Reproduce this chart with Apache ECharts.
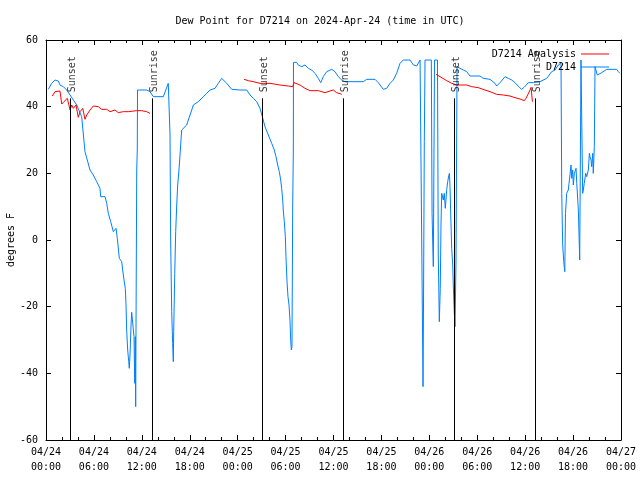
<!DOCTYPE html>
<html>
<head>
<meta charset="utf-8">
<script src="https://cdn.jsdelivr.net/npm/echarts@6/dist/echarts.min.js"></script>
<style>html,body{margin:0;padding:0;background:#fff}#c{width:640px;height:480px}</style>
</head>
<body>
<div id="c"></div>
<script>
// Hours since 2024-04-24 00:00 UTC
const obsHours = [0.29,0.71,1.13,1.34,1.54,1.75,2.17,2.59,3.01,3.84,4.47,4.88,5.51,5.92,6.35,6.76,6.85,7.39,7.6,7.8,8.1,8.43,8.77,8.93,9.18,9.48,9.6,9.77,9.93,10.02,10.1,10.23,10.36,10.43,10.52,10.64,10.73,10.93,11.02,11.11,11.18,11.23,11.27,11.36,11.43,11.46,12.61,13.02,13.27,13.44,14.69,15.31,15.45,15.53,15.61,15.74,15.86,15.94,15.99,16.12,16.24,16.37,16.49,16.65,16.78,16.99,17.19,17.62,17.82,18.25,18.45,19.07,19.28,19.7,20.12,20.54,21.16,21.58,22.0,22.2,22.63,23.25,24.29,25.13,25.55,25.96,26.38,26.8,27.09,27.42,27.84,28.26,28.59,28.8,29.01,29.21,29.39,29.51,29.64,29.71,29.84,29.97,30.05,30.18,30.3,30.43,30.55,30.64,30.72,30.8,30.89,30.97,30.99,31.39,31.59,32.02,32.43,32.85,33.27,33.68,34.1,34.4,34.72,35.15,35.78,36.19,36.6,37.03,37.44,39.73,40.16,41.2,41.61,42.24,42.66,43.08,43.49,43.91,44.33,44.74,45.58,46.0,46.42,46.84,47.05,47.12,47.21,47.27,47.37,47.46,48.25,48.34,48.5,48.65,49.02,49.12,49.25,49.37,49.46,49.55,49.67,49.75,49.87,50.0,50.18,50.3,50.43,50.51,50.59,50.68,50.8,50.93,51.0,51.13,51.22,51.34,51.47,51.84,52.26,52.68,53.09,54.34,54.76,55.6,56.22,56.43,56.85,57.48,57.89,58.32,58.73,59.27,59.57,59.86,60.4,61.02,61.86,62.7,63.32,63.74,64.15,64.49,64.58,64.7,64.83,64.96,65.05,65.2,65.4,65.61,65.74,65.83,65.95,66.03,66.16,66.37,66.46,66.66,66.75,66.83,66.99,67.2,67.28,67.4,67.58,67.7,67.91,68.04,68.12,68.25,68.33,68.46,68.53,68.66,68.75,68.83,69.03,69.28,69.58,69.79,70.21,71.46,71.66,71.87];
const obsDew = [45.2,47,48,47.5,47.7,46.5,46,45,43.5,40.5,37,26.5,21,19.5,17.5,15.5,13,13,11,8,5.5,2.5,3.5,0.5,-5.5,-6.5,-9,-12,-14.5,-19.5,-27,-33,-36.5,-38.5,-34.5,-26,-21.7,-21.7,-29,-43,-29,-50,-26.5,21,27,45,45,44.5,44.5,43,43,47,47.5,31.5,0,-21.5,-31,-36.5,-27.5,-10,2.5,10.5,16.5,21,25.5,33,33.5,34.5,36,39,40.5,41.5,42,43,44,45,45.5,47,48.5,48,47,45.2,45,45,43.5,42.5,41.5,39.5,37,34,31.5,29,27,25,22.5,20.5,18,15.5,12,9,5.5,1,-5,-12.5,-17,-19.5,-24,-30,-33,-32,10.5,27,53.3,53.3,52.5,52,52.5,51.5,51,50,48.5,47.2,49,50.5,51.2,50.5,49,48,47.5,47.5,48.2,48.2,47.2,45.2,45.5,47,48,50,53,54,54,52.5,52.2,54,54,-19.5,-44,-19.5,29.5,54,54,8,-8,54,54,-4.8,-24.5,-14.5,4.5,14,13.5,12,14,9.5,15.2,17.5,19.2,20,16,7.5,-2.5,-7.5,-13.5,-22,-26,-6,52,51.5,51,50.5,49.2,49.2,48.5,48.2,47,46.2,47.2,49,48.5,48,47.2,45.8,45.2,45.8,47.2,47.2,47.5,48.5,50.5,51,52.5,53,14,-1.5,-6.5,-9.5,8,14,15,19.5,22.5,18.5,21,16.5,20,21.5,17,9,1,-6,54,14,15,17,20,19,21,26,25,24,22,26,20,28,52,52.2,49.5,49.2,50.2,50.7,51.2,51.2,50.5,50];

// Analysis: '-' marks a gap between runs
const anaHours = [0.79,1.13,1.75,1.97,2.25,2.67,3.01,3.22,3.42,3.76,4.04,4.26,4.6,4.88,5.1,5.51,5.92,6.55,6.97,7.6,8.01,8.64,9.05,9.68,10.31,11.36,11.98,12.61,13.02,18,24.79,25.33,25.96,26.8,28.05,29.3,30.34,30.89,31.06,31.81,32.43,33.06,34.1,34.94,35.56,35.98,36.4,37.03,42,48.84,49.34,50.18,50.8,51.43,52.68,53.31,54.13,54.97,55.6,56.43,57.26,58.1,58.73,59.36,59.9,60.11,60.61,60.74,60.9,60.91];
const anaDew = [43.2,44.5,44.7,40.8,41.5,42.5,39,40.5,39.5,40.5,36.8,38.5,39.5,36.2,37.5,39,40.2,40,39.2,39.2,38.5,39,38.2,38.5,38.5,38.8,38.8,38.5,38,'-',48.2,47.8,47.5,47,47,46.5,46.2,46,47.2,46.5,45.5,44.8,44.8,44.2,44.7,45,44.2,43.7,'-',49.7,49,47.8,47,46.5,46.5,46,45.7,45,44.5,43.7,43.5,43.2,42.7,42.3,41.8,42.5,45,45.8,45.8,41.5];

const sunHours = [3.04,13.31,27.09,37.23,51.13,61.27];
const sunNames = ['Sunset','Sunrise','Sunset','Sunrise','Sunset','Sunrise'];
const sunLineTop = 42.5;

const dayLabels = ['04/24','04/24','04/24','04/24','04/25','04/25','04/25','04/25','04/26','04/26','04/26','04/26','04/27'];
const timeLabels = ['00:00','06:00','12:00','18:00'];

const FONT = 'DejaVu Sans Mono';
const chart = echarts.init(document.getElementById('c'), null, {renderer:'canvas'});

const zip = (a,b) => a.map((x,i)=>[x,b[i]]);
const tickFmt = v => {
  const i = Math.round(v/6);
  return dayLabels[i] + '\n' + timeLabels[i%4];
};
const axisCommon = {
  type:'value', min:0, max:72, interval:6,
  axisLine:{show:true, onZero:false, lineStyle:{color:'#000', width:1}},
  axisTick:{show:true, inside:true, length:5, lineStyle:{color:'#000'}},
  minorTick:{show:true, splitNumber:3, length:3, lineStyle:{color:'#000'}},
  splitLine:{show:false}
};
const yCommon = {
  type:'value', min:-60, max:60, interval:20,
  axisLine:{show:true, onZero:false, lineStyle:{color:'#000', width:1}},
  axisTick:{show:true, inside:true, length:5, lineStyle:{color:'#000'}},
  splitLine:{show:false}
};
const legendText = {fontFamily:FONT, fontSize:10, color:'#000'};

chart.setOption({
  animation:false,
  backgroundColor:'#fff',
  title:{text:'Dew Point for D7214 on 2024-Apr-24 (time in UTC)', left:'center', top:11,
    textStyle:{fontFamily:FONT, fontSize:10, fontWeight:'normal', color:'#000'}},
  grid:{left:46, right:19, top:40, bottom:40, containLabel:false, outerBoundsMode:'none'},
  legend:[
    {data:['D7214 Analysis'], right:26, top:44, align:'right', icon:'rect', itemWidth:28, itemHeight:1, itemGap:0, textStyle:legendText},
    {data:['D7214'], right:26, top:57, align:'right', icon:'rect', itemWidth:28, itemHeight:1, itemGap:0, textStyle:legendText}
  ],
  xAxis:[
    Object.assign({}, axisCommon, {position:'bottom',
      axisLabel:{show:true, formatter:tickFmt, fontFamily:FONT, fontSize:10, color:'#000', lineHeight:15, margin:5, showMinLabel:true, showMaxLabel:true}}),
    Object.assign({}, axisCommon, {position:'top', axisLabel:{show:false}})
  ],
  yAxis:[
    Object.assign({}, yCommon, {position:'left', name:'degrees F', nameLocation:'middle', nameGap:30, nameRotate:90,
      nameMoveOverlap:false,
      nameTextStyle:{fontFamily:FONT, fontSize:10, color:'#000'},
      axisLabel:{fontFamily:FONT, fontSize:10, color:'#000', margin:8}}),
    Object.assign({}, yCommon, {position:'right', axisLabel:{show:false}})
  ],
  series:[
    {name:'D7214 Analysis', type:'line', data:zip(anaHours, anaDew), symbol:'none', connectNulls:false,
      lineStyle:{color:'#ff0000', width:1}, itemStyle:{color:'#ff0000'}, z:3},
    {name:'D7214', type:'line', data:zip(obsHours, obsDew), symbol:'none',
      lineStyle:{color:'#0080ff', width:1}, itemStyle:{color:'#0080ff'}, z:2},
    {name:'sun', type:'scatter', symbolSize:0, data:sunHours.map((h,i)=>({value:[h, sunLineTop], name:sunNames[i]})),
      label:{show:true, formatter:p=>p.name, rotate:90, position:[2,-6], align:'left', verticalAlign:'middle',
        fontFamily:FONT, fontSize:10, color:'#000'},
      markLine:{silent:true, symbol:['none','none'], label:{show:false},
        lineStyle:{color:'#000', width:1, type:'solid'},
        data:sunHours.map(h=>[{coord:[h,-60]},{coord:[h,sunLineTop]}])},
      z:4}
  ]
});
</script>
</body>
</html>
